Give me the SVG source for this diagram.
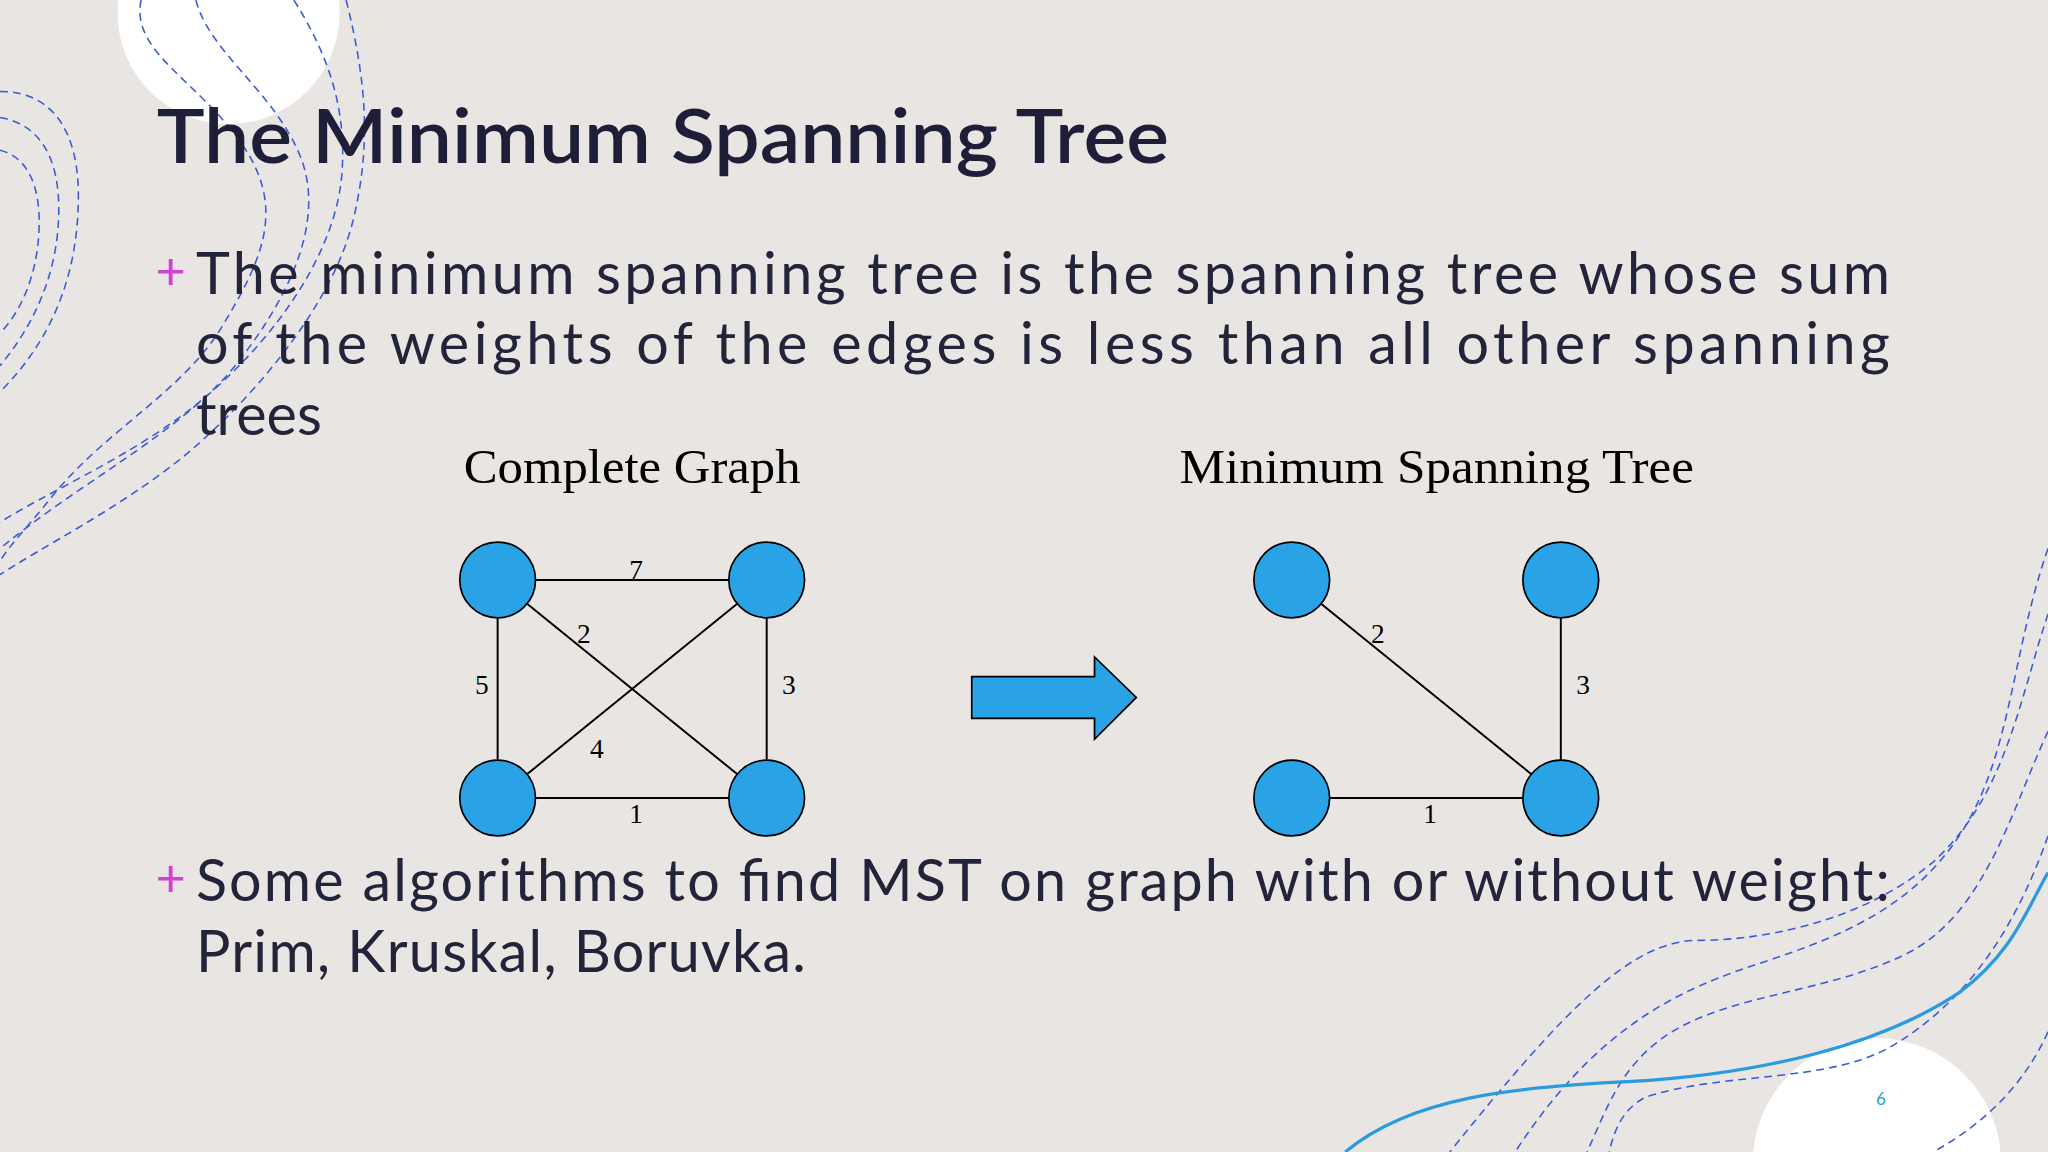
<svg xmlns="http://www.w3.org/2000/svg" width="2048" height="1152" viewBox="0 0 2048 1152">
<style>
.deco{fill:none;stroke:#3b5bd6;stroke-width:1.2;stroke-dasharray:6 4}
.body{font-family:Lato,"Noto Sans",sans-serif;font-size:44px;fill:#23233a}
.plus{font-family:Lato,sans-serif;font-size:40px;fill:#d63fd6}
.cap{font-family:"Liberation Serif",serif;font-size:37px;fill:#000}
.w{font-family:"Liberation Serif",serif;font-size:21px;fill:#000;text-anchor:middle}
.node{fill:#29a3e6;stroke:#000;stroke-width:1.3}
.edge{stroke:#000;stroke-width:1.5}
</style>
<rect width="2048" height="1152" fill="#e9e5e3"/>
<g transform="scale(1.30612)">
<circle cx="175" cy="10" r="85" fill="#fff"/>
<circle cx="1437" cy="890" r="95" fill="#fff"/>
<path class="deco" d="M108 0 C100 40 150 60 185 110 C220 160 200 200 170 250 C140 300 80 330 40 380 C20 405 5 420 0 430"/>
<path class="deco" d="M150 0 C160 40 210 70 230 120 C250 170 220 230 180 280 C140 330 60 370 0 420"/>
<path class="deco" d="M225 0 C250 40 265 80 262 130 C258 200 200 270 150 310 C100 350 30 380 0 400"/>
<path class="deco" d="M265 0 C280 60 285 110 270 170 C255 230 200 300 140 350 C90 390 30 420 0 440"/>
<path class="deco" d="M0 70 C40 70 60 100 60 150 C60 210 40 260 0 300"/>
<path class="deco" d="M0 90 C30 95 45 120 45 160 C45 210 25 250 0 280"/>
<path class="deco" d="M0 115 C20 120 30 140 30 170 C30 210 15 240 0 255"/>
<path class="deco" d="M1568 420 C1540 500 1540 580 1500 640 C1460 700 1400 720 1340 740 C1280 760 1220 790 1160 882"/>
<path class="deco" d="M1568 470 C1545 540 1535 610 1480 660 C1420 710 1340 720 1300 720 C1250 720 1200 770 1110 882"/>
<path class="deco" d="M1568 560 C1540 620 1520 700 1460 730 C1400 760 1330 760 1280 790 C1240 815 1230 850 1215 882"/>
<path class="deco" d="M1568 640 C1540 720 1500 770 1450 800 C1400 830 1320 820 1260 840 C1240 850 1235 870 1232 882"/>
<path class="deco" d="M1568 790 C1550 830 1520 860 1480 882"/>
<path d="M1030 882 C1080 840 1160 832 1250 828 C1350 822 1440 800 1500 760 C1540 730 1550 700 1568 668" fill="none" stroke="#2b9be0" stroke-width="2.5"/>
<text x="1440" y="846" font-family="Lato,sans-serif" font-size="13" fill="#2b9be0" text-anchor="middle">6</text>

<text x="120" y="125" font-family="Lato,'Noto Sans',sans-serif" font-size="58" font-weight="600" fill="#1e1e38" textLength="775" lengthAdjust="spacingAndGlyphs">The Minimum Spanning Tree</text>

<text class="plus" x="119" y="222">+</text>
<text class="body" x="150" y="225" textLength="1297" lengthAdjust="spacing">The minimum spanning tree is the spanning tree whose sum</text>
<text class="body" x="150" y="279" textLength="1297" lengthAdjust="spacing">of the weights of the edges is less than all other spanning</text>
<text class="body" x="150" y="333">trees</text>

<text class="cap" x="355" y="370" textLength="258" lengthAdjust="spacingAndGlyphs">Complete Graph</text>
<text class="cap" x="903" y="370" textLength="394" lengthAdjust="spacingAndGlyphs">Minimum Spanning Tree</text>

<g id="connectors">
<line class="edge" x1="381" y1="444" x2="587" y2="444"/>
<line class="edge" x1="381" y1="611" x2="587" y2="611"/>
<line class="edge" x1="381" y1="444" x2="381" y2="611"/>
<line class="edge" x1="587" y1="444" x2="587" y2="611"/>
<line class="edge" x1="381" y1="444" x2="587" y2="611"/>
<line class="edge" x1="587" y1="444" x2="381" y2="611"/>
<line class="edge" x1="989" y1="444" x2="1195" y2="611"/>
<line class="edge" x1="1195" y1="444" x2="1195" y2="611"/>
<line class="edge" x1="989" y1="611" x2="1195" y2="611"/>
</g>
<g id="weights">
<text class="w" x="487" y="443">7</text>
<text class="w" x="447" y="492">2</text>
<text class="w" x="369" y="531">5</text>
<text class="w" x="604" y="531">3</text>
<text class="w" x="457" y="580">4</text>
<text class="w" x="487" y="630">1</text>
<text class="w" x="1055" y="492">2</text>
<text class="w" x="1212" y="531">3</text>
<text class="w" x="1095" y="630">1</text>
</g>
<g id="n1"><ellipse class="node" cx="381" cy="444" rx="29" ry="29"/></g>
<g id="n2"><ellipse class="node" cx="587" cy="444" rx="29" ry="29"/></g>
<g id="n3"><ellipse class="node" cx="381" cy="611" rx="29" ry="29"/></g>
<g id="n4"><ellipse class="node" cx="587" cy="611" rx="29" ry="29"/></g>
<g id="m1"><ellipse class="node" cx="989" cy="444" rx="29" ry="29"/></g>
<g id="m2"><ellipse class="node" cx="1195" cy="444" rx="29" ry="29"/></g>
<g id="m3"><ellipse class="node" cx="989" cy="611" rx="29" ry="29"/></g>
<g id="m4"><ellipse class="node" cx="1195" cy="611" rx="29" ry="29"/></g>
<g id="arrow"><polygon class="node" points="744,518 838,518 838,503 870,534 838,566 838,550 744,550"/></g>

<text class="plus" x="119" y="687">+</text>
<text class="body" x="150" y="690" textLength="1297" lengthAdjust="spacing">Some algorithms to find MST on graph with or without weight:</text>
<text class="body" x="150" y="744" textLength="467" lengthAdjust="spacing">Prim, Kruskal, Boruvka.</text>
</g>
</svg>
